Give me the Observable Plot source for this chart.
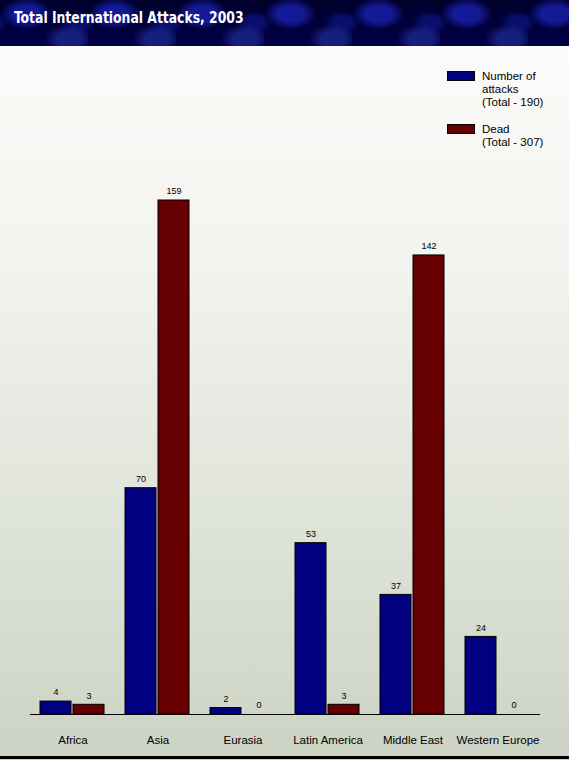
<!DOCTYPE html>
<html><head><meta charset="utf-8">
<script src="https://cdn.jsdelivr.net/npm/d3@7"></script>
<script src="https://cdn.jsdelivr.net/npm/@observablehq/plot@0.6"></script>
<style>
body{margin:0;background:#fff;}
#page{position:relative;width:569px;height:760px;overflow:hidden;
  background:linear-gradient(to bottom,#fbfbf9 46px,#f4f5f1 230px,#e2e6dc 480px,#cdd4c5 745px);
  font-family:"Liberation Sans",Arial,sans-serif;}
#header{position:absolute;left:0;top:0;width:569px;height:46px;
  background:
   radial-gradient(ellipse 26px 16px at 30% 30%, rgba(22,28,160,0.9) 50%, transparent 100%) 0 0/88px 46px,
   radial-gradient(ellipse 24px 15px at 78% 85%, rgba(30,40,145,0.75) 50%, transparent 100%) 0 0/88px 46px,
   radial-gradient(ellipse 18px 12px at 55% 50%, rgba(12,18,120,0.8) 50%, transparent 100%) 30px 0/88px 46px,
   linear-gradient(#00002c,#000046);}
#title{position:absolute;left:14px;top:8px;color:#fff;font-weight:bold;font-size:16px;
  font-family:"DejaVu Sans Condensed","DejaVu Sans",Arial,sans-serif;
  transform:scaleX(0.86);transform-origin:0 0;white-space:nowrap;}
#chart{position:absolute;left:0;top:46px;}
.sw{position:absolute;left:447px;width:28px;height:10px;border:1px solid #000;box-sizing:border-box;}
.lt{position:absolute;left:482px;font-size:11.5px;line-height:13px;color:#000;}
#bottomline{position:absolute;left:0;top:756px;width:569px;height:3px;background:#000;}
</style></head>
<body>
<div id="page">
  <div id="header"><div id="title">Total International Attacks, 2003</div></div>
  <div id="chart"></div>
  <div class="sw" style="top:71px;background:#000080"></div>
  <div class="lt" style="top:70px">Number of<br>attacks<br>(Total - 190)</div>
  <div class="sw" style="top:124px;background:#660000"></div>
  <div class="lt" style="top:123px">Dead<br>(Total - 307)</div>
  <div id="bottomline"></div>
</div>
<script>
const regions = ["Africa","Asia","Eurasia","Latin America","Middle East","Western Europe"];
const seriesKeys = ["attacks","dead"];
const attacks = [4,70,2,53,37,24];
const dead = [3,159,0,3,142,0];
const colors = ["#000080","#660000"];

const data = regions.flatMap((r,i)=>[
  {region:r, series:"attacks", value:attacks[i]},
  {region:r, series:"dead", value:dead[i]}
]);

const chart = Plot.plot({
  width:569, height:710,
  marginLeft:28, marginRight:28, marginTop:154, marginBottom:42,
  style:{background:"transparent", fontFamily:'"Liberation Sans",Arial,sans-serif', fontSize:"11px", color:"#000"},
  fx:{domain:regions, padding:0, label:null},
  x:{domain:seriesKeys, paddingInner:0.06, paddingOuter:0.29, axis:null},
  y:{domain:[0,159], axis:null},
  color:{domain:seriesKeys, range:colors},
  marks:[
    Plot.barY(data,{fx:"region", x:"series", y:"value", fill:"series", stroke:"#000", strokeWidth:1}),
    Plot.text(data,{fx:"region", x:"series", y:"value", text:d=>String(d.value), dy:-9, fontSize:9, fill:"#000"}),
    Plot.ruleY([0],{stroke:"#000", strokeWidth:1}),
    Plot.axisFx({anchor:"bottom", tickSize:0, tickPadding:21, fontSize:11.5, label:null})
  ]
});
document.getElementById("chart").appendChild(chart);
</script>
</body></html>
